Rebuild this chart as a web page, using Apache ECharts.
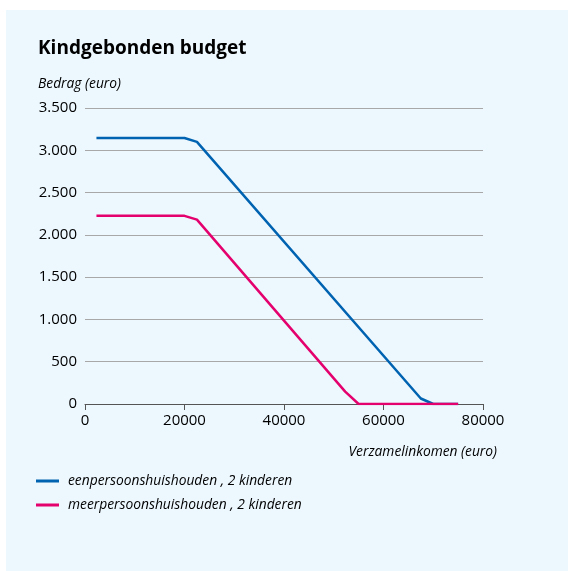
<!DOCTYPE html>
<html>
<head>
<meta charset="utf-8">
<script src="https://cdn.jsdelivr.net/npm/echarts@6/dist/echarts.min.js"></script>
<style>
  html, body { margin: 0; padding: 0; background: #fff; overflow: hidden; }
  #panel { position: absolute; left: 6px; top: 10px; width: 562px; height: 561px; background: #ecf7fe; }
  #chart { position: absolute; left: 0; top: 0; width: 568px; height: 571px; }
</style>
</head>
<body>
<div id="panel"></div>
<div id="chart"></div>
<script>
// verzamelinkomen (euro) en bedrag (euro)
const eenInkomen = [2300, 20000, 22500, 67500, 70000, 75000]
const eenBedrag = [3145, 3145, 3100, 65, 0, 0]
const meerInkomen = [2300, 20000, 22500, 52300, 55000, 75000]
const meerBedrag = [2225, 2225, 2180, 146, 0, 0]
const seriesNames = ['eenpersoonshuishouden , 2 kinderen', 'meerpersoonshuishouden , 2 kinderen']
const seriesColors = ['#0063b1', '#e4006d']

const italicFont = '"Open Sans", sans-serif'

const chart = echarts.init(document.getElementById('chart'))

const zip = (xs, ys) => xs.map((x, i) => [x, ys[i]])

chart.setOption({
  animation: false,
  title: [
    {
      text: 'Kindgebonden budget',
      left: 33,
      top: 34,
      textStyle: { fontFamily: '"Open Sans", sans-serif', fontWeight: 'bold', fontSize: 19, color: '#000' }
    },
    {
      text: 'Bedrag (euro)',
      left: 33,
      top: 72,
      textStyle: { fontFamily: italicFont, fontStyle: 'italic', fontWeight: 'normal', fontSize: 13.8, color: '#000' }
    },
    {
      text: 'Verzamelinkomen (euro)',
      right: 66,
      top: 440,
      textStyle: { fontFamily: italicFont, fontStyle: 'italic', fontWeight: 'normal', fontSize: 13.8, color: '#000' }
    }
  ],
  legend: {
    orient: 'vertical',
    left: 31,
    top: 469,
    icon: 'rect',
    itemWidth: 23,
    itemHeight: 3,
    itemGap: 10,
    data: seriesNames,
    textStyle: { fontFamily: italicFont, fontStyle: 'italic', fontSize: 13.8, color: '#000', padding: [0, 0, 0, 4] }
  },
  grid: { left: 85, right: 85, top: 108, bottom: 167 },
  xAxis: {
    type: 'value',
    min: 0,
    max: 80000,
    interval: 20000,
    axisLine: { lineStyle: { color: '#555', width: 1 } },
    axisTick: { show: true, length: 6, lineStyle: { color: '#555' } },
    splitLine: { show: false },
    axisLabel: {
      color: '#000',
      fontSize: 15,
      margin: 9,
      fontFamily: '"Open Sans", sans-serif',
      formatter: v => String(v)
    }
  },
  yAxis: {
    type: 'value',
    min: 0,
    max: 3500,
    interval: 500,
    axisLine: { show: false },
    axisTick: { show: false },
    splitLine: { lineStyle: { color: '#a8a8a8', width: 1 } },
    axisLabel: {
      color: '#000',
      fontSize: 15,
      margin: 8,
      fontFamily: '"Open Sans", sans-serif',
      formatter: v => v.toLocaleString('de-DE')
    }
  },
  series: [
    {
      name: seriesNames[0],
      type: 'line',
      data: zip(eenInkomen, eenBedrag),
      showSymbol: false,
      color: seriesColors[0],
      lineStyle: { width: 2.5 }
    },
    {
      name: seriesNames[1],
      type: 'line',
      data: zip(meerInkomen, meerBedrag),
      showSymbol: false,
      color: seriesColors[1],
      lineStyle: { width: 2.5 }
    }
  ]
})
</script>
</body>
</html>
